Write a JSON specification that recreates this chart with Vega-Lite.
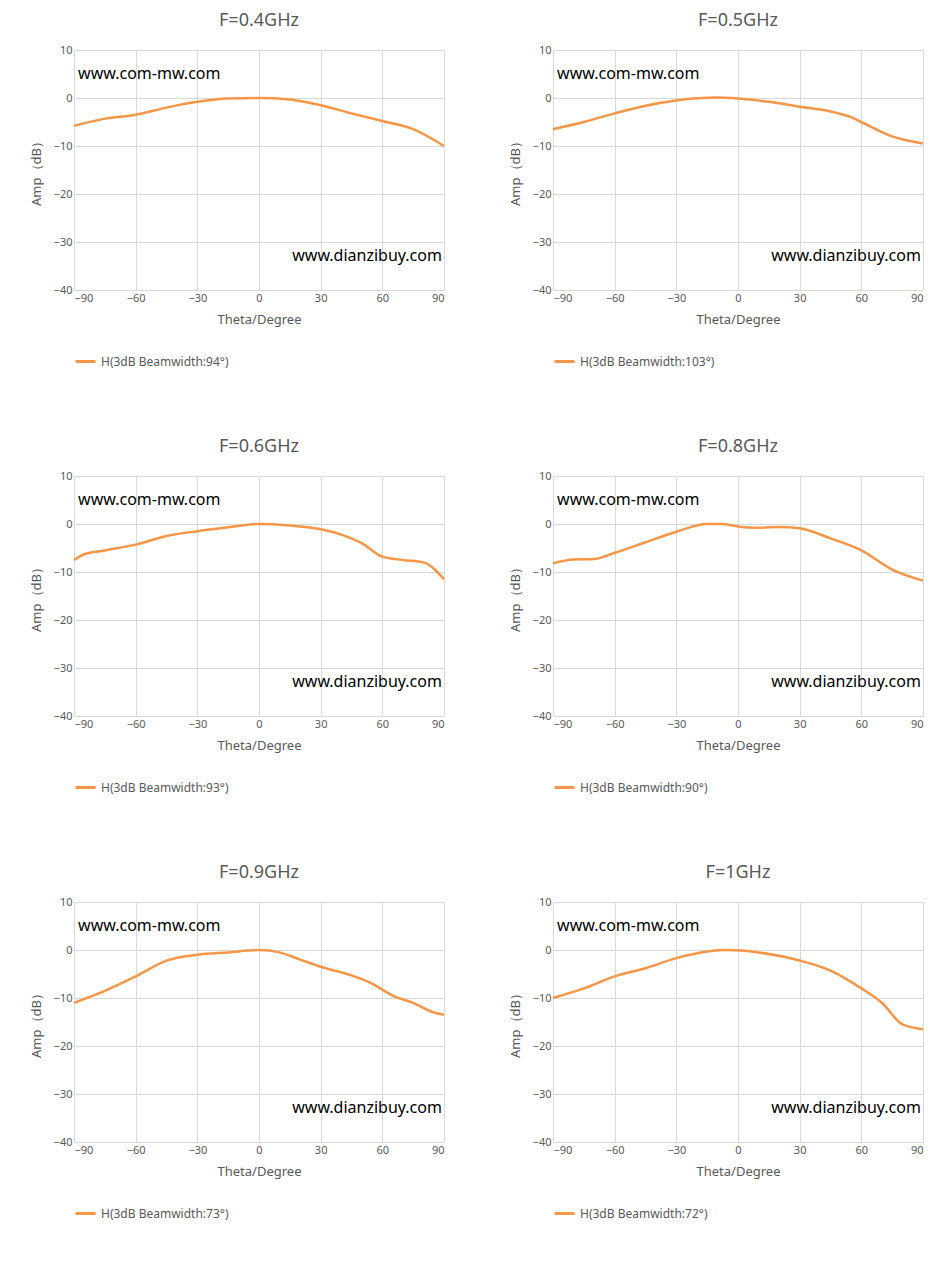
{
"$schema":"https://vega.github.io/schema/vega-lite/v6.json",
"padding":{"left":30,"top":12,"right":10,"bottom":5},
"background":"white",
"spacing":70,
"datasets":{
"curves":[
{"p":"0.4","s":"H(3dB Beamwidth:94°)","t":-90,"a":-5.8},{"p":"0.4","s":"H(3dB Beamwidth:94°)","t":-75,"a":-4.3},{"p":"0.4","s":"H(3dB Beamwidth:94°)","t":-60,"a":-3.5},{"p":"0.4","s":"H(3dB Beamwidth:94°)","t":-45,"a":-2},{"p":"0.4","s":"H(3dB Beamwidth:94°)","t":-30,"a":-0.8},{"p":"0.4","s":"H(3dB Beamwidth:94°)","t":-15,"a":-0.1},{"p":"0.4","s":"H(3dB Beamwidth:94°)","t":0,"a":0},{"p":"0.4","s":"H(3dB Beamwidth:94°)","t":15,"a":-0.3},{"p":"0.4","s":"H(3dB Beamwidth:94°)","t":30,"a":-1.5},{"p":"0.4","s":"H(3dB Beamwidth:94°)","t":45,"a":-3.2},{"p":"0.4","s":"H(3dB Beamwidth:94°)","t":60,"a":-4.8},{"p":"0.4","s":"H(3dB Beamwidth:94°)","t":75,"a":-6.5},{"p":"0.4","s":"H(3dB Beamwidth:94°)","t":90,"a":-10},
{"p":"0.5","s":"H(3dB Beamwidth:103°)","t":-90,"a":-6.5},{"p":"0.5","s":"H(3dB Beamwidth:103°)","t":-75,"a":-5},{"p":"0.5","s":"H(3dB Beamwidth:103°)","t":-60,"a":-3.2},{"p":"0.5","s":"H(3dB Beamwidth:103°)","t":-45,"a":-1.6},{"p":"0.5","s":"H(3dB Beamwidth:103°)","t":-30,"a":-0.5},{"p":"0.5","s":"H(3dB Beamwidth:103°)","t":-10,"a":0.1},{"p":"0.5","s":"H(3dB Beamwidth:103°)","t":0,"a":-0.1},{"p":"0.5","s":"H(3dB Beamwidth:103°)","t":15,"a":-0.8},{"p":"0.5","s":"H(3dB Beamwidth:103°)","t":30,"a":-1.8},{"p":"0.5","s":"H(3dB Beamwidth:103°)","t":45,"a":-2.8},{"p":"0.5","s":"H(3dB Beamwidth:103°)","t":55,"a":-4},{"p":"0.5","s":"H(3dB Beamwidth:103°)","t":60,"a":-5},{"p":"0.5","s":"H(3dB Beamwidth:103°)","t":75,"a":-8},{"p":"0.5","s":"H(3dB Beamwidth:103°)","t":90,"a":-9.5},
{"p":"0.6","s":"H(3dB Beamwidth:93°)","t":-90,"a":-7.5},{"p":"0.6","s":"H(3dB Beamwidth:93°)","t":-85,"a":-6.3},{"p":"0.6","s":"H(3dB Beamwidth:93°)","t":-75,"a":-5.5},{"p":"0.6","s":"H(3dB Beamwidth:93°)","t":-60,"a":-4.3},{"p":"0.6","s":"H(3dB Beamwidth:93°)","t":-45,"a":-2.5},{"p":"0.6","s":"H(3dB Beamwidth:93°)","t":-30,"a":-1.5},{"p":"0.6","s":"H(3dB Beamwidth:93°)","t":-15,"a":-0.7},{"p":"0.6","s":"H(3dB Beamwidth:93°)","t":0,"a":0},{"p":"0.6","s":"H(3dB Beamwidth:93°)","t":15,"a":-0.3},{"p":"0.6","s":"H(3dB Beamwidth:93°)","t":30,"a":-1.1},{"p":"0.6","s":"H(3dB Beamwidth:93°)","t":40,"a":-2.2},{"p":"0.6","s":"H(3dB Beamwidth:93°)","t":50,"a":-4},{"p":"0.6","s":"H(3dB Beamwidth:93°)","t":60,"a":-6.8},{"p":"0.6","s":"H(3dB Beamwidth:93°)","t":70,"a":-7.5},{"p":"0.6","s":"H(3dB Beamwidth:93°)","t":80,"a":-8},{"p":"0.6","s":"H(3dB Beamwidth:93°)","t":90,"a":-11.5},
{"p":"0.8","s":"H(3dB Beamwidth:90°)","t":-90,"a":-8.2},{"p":"0.8","s":"H(3dB Beamwidth:90°)","t":-80,"a":-7.4},{"p":"0.8","s":"H(3dB Beamwidth:90°)","t":-70,"a":-7.3},{"p":"0.8","s":"H(3dB Beamwidth:90°)","t":-60,"a":-6},{"p":"0.8","s":"H(3dB Beamwidth:90°)","t":-45,"a":-3.8},{"p":"0.8","s":"H(3dB Beamwidth:90°)","t":-30,"a":-1.6},{"p":"0.8","s":"H(3dB Beamwidth:90°)","t":-15,"a":0},{"p":"0.8","s":"H(3dB Beamwidth:90°)","t":-8,"a":0},{"p":"0.8","s":"H(3dB Beamwidth:90°)","t":0,"a":-0.5},{"p":"0.8","s":"H(3dB Beamwidth:90°)","t":10,"a":-0.8},{"p":"0.8","s":"H(3dB Beamwidth:90°)","t":20,"a":-0.6},{"p":"0.8","s":"H(3dB Beamwidth:90°)","t":30,"a":-0.9},{"p":"0.8","s":"H(3dB Beamwidth:90°)","t":45,"a":-3},{"p":"0.8","s":"H(3dB Beamwidth:90°)","t":60,"a":-5.5},{"p":"0.8","s":"H(3dB Beamwidth:90°)","t":75,"a":-9.5},{"p":"0.8","s":"H(3dB Beamwidth:90°)","t":90,"a":-11.8},
{"p":"0.9","s":"H(3dB Beamwidth:73°)","t":-90,"a":-11},{"p":"0.9","s":"H(3dB Beamwidth:73°)","t":-75,"a":-8.5},{"p":"0.9","s":"H(3dB Beamwidth:73°)","t":-60,"a":-5.5},{"p":"0.9","s":"H(3dB Beamwidth:73°)","t":-45,"a":-2.2},{"p":"0.9","s":"H(3dB Beamwidth:73°)","t":-30,"a":-1},{"p":"0.9","s":"H(3dB Beamwidth:73°)","t":-15,"a":-0.5},{"p":"0.9","s":"H(3dB Beamwidth:73°)","t":0,"a":0},{"p":"0.9","s":"H(3dB Beamwidth:73°)","t":10,"a":-0.5},{"p":"0.9","s":"H(3dB Beamwidth:73°)","t":20,"a":-2},{"p":"0.9","s":"H(3dB Beamwidth:73°)","t":30,"a":-3.5},{"p":"0.9","s":"H(3dB Beamwidth:73°)","t":45,"a":-5.3},{"p":"0.9","s":"H(3dB Beamwidth:73°)","t":55,"a":-7},{"p":"0.9","s":"H(3dB Beamwidth:73°)","t":65,"a":-9.5},{"p":"0.9","s":"H(3dB Beamwidth:73°)","t":75,"a":-11},{"p":"0.9","s":"H(3dB Beamwidth:73°)","t":85,"a":-13},{"p":"0.9","s":"H(3dB Beamwidth:73°)","t":90,"a":-13.5},
{"p":"1","s":"H(3dB Beamwidth:72°)","t":-90,"a":-10},{"p":"1","s":"H(3dB Beamwidth:72°)","t":-75,"a":-8},{"p":"1","s":"H(3dB Beamwidth:72°)","t":-60,"a":-5.5},{"p":"1","s":"H(3dB Beamwidth:72°)","t":-45,"a":-3.8},{"p":"1","s":"H(3dB Beamwidth:72°)","t":-30,"a":-1.7},{"p":"1","s":"H(3dB Beamwidth:72°)","t":-15,"a":-0.3},{"p":"1","s":"H(3dB Beamwidth:72°)","t":-5,"a":0},{"p":"1","s":"H(3dB Beamwidth:72°)","t":10,"a":-0.5},{"p":"1","s":"H(3dB Beamwidth:72°)","t":30,"a":-2.2},{"p":"1","s":"H(3dB Beamwidth:72°)","t":45,"a":-4.3},{"p":"1","s":"H(3dB Beamwidth:72°)","t":60,"a":-8},{"p":"1","s":"H(3dB Beamwidth:72°)","t":70,"a":-11},{"p":"1","s":"H(3dB Beamwidth:72°)","t":80,"a":-15.5},{"p":"1","s":"H(3dB Beamwidth:72°)","t":90,"a":-16.5}
],
"left":[{"label":"www.com-mw.com","t":-88,"a":5}],
"right":[{"label":"www.dianzibuy.com","t":89,"a":-33}]
},
"config":{
"font":"Noto Sans",
"view":{"stroke":null},
"axis":{"gridColor":"#d9d9d9","domain":false,"ticks":false,"labelColor":"#595959","labelFontSize":11,"titleColor":"#595959","titleFontSize":13,"titleFontWeight":"normal","titlePadding":10},
"title":{"fontSize":18,"fontWeight":"normal","color":"#595959","offset":14},
"legend":{"orient":"bottom","title":null,"labelFontSize":12,"labelColor":"#595959","symbolType":"stroke","symbolStrokeWidth":3,"symbolSize":400,"offset":24,"labelLimit":300}
},
"vconcat":[
{"spacing":60,"hconcat":[
{"title":"F=0.4GHz","width":370,"height":240,"layer":[
{"data":{"name":"curves"},"transform":[{"filter":"datum.p=='0.4'"}],"mark":{"type":"line","interpolate":"monotone","strokeWidth":2.5},
"encoding":{"x":{"field":"t","type":"quantitative","scale":{"domain":[-90,90],"nice":false},"axis":{"values":[-90,-60,-30,0,30,60,90],"title":"Theta/Degree"}},
"y":{"field":"a","type":"quantitative","scale":{"domain":[-40,10]},"axis":{"values":[-40,-30,-20,-10,0,10],"title":"Amp（dB）"}},
"color":{"field":"s","type":"nominal","scale":{"range":["#F79646"]}}}},
{"data":{"name":"left"},"mark":{"type":"text","fontSize":16,"baseline":"middle","align":"left"},"encoding":{"x":{"field":"t","type":"quantitative"},"y":{"field":"a","type":"quantitative"},"text":{"field":"label"}}},
{"data":{"name":"right"},"mark":{"type":"text","fontSize":16,"baseline":"middle","align":"right"},"encoding":{"x":{"field":"t","type":"quantitative"},"y":{"field":"a","type":"quantitative"},"text":{"field":"label"}}}
]},
{"title":"F=0.5GHz","width":370,"height":240,"layer":[
{"data":{"name":"curves"},"transform":[{"filter":"datum.p=='0.5'"}],"mark":{"type":"line","interpolate":"monotone","strokeWidth":2.5},
"encoding":{"x":{"field":"t","type":"quantitative","scale":{"domain":[-90,90],"nice":false},"axis":{"values":[-90,-60,-30,0,30,60,90],"title":"Theta/Degree"}},
"y":{"field":"a","type":"quantitative","scale":{"domain":[-40,10]},"axis":{"values":[-40,-30,-20,-10,0,10],"title":"Amp（dB）"}},
"color":{"field":"s","type":"nominal","scale":{"range":["#F79646"]}}}},
{"data":{"name":"left"},"mark":{"type":"text","fontSize":16,"baseline":"middle","align":"left"},"encoding":{"x":{"field":"t","type":"quantitative"},"y":{"field":"a","type":"quantitative"},"text":{"field":"label"}}},
{"data":{"name":"right"},"mark":{"type":"text","fontSize":16,"baseline":"middle","align":"right"},"encoding":{"x":{"field":"t","type":"quantitative"},"y":{"field":"a","type":"quantitative"},"text":{"field":"label"}}}
]}
],"resolve":{"scale":{"color":"independent"}}},
{"spacing":60,"hconcat":[
{"title":"F=0.6GHz","width":370,"height":240,"layer":[
{"data":{"name":"curves"},"transform":[{"filter":"datum.p=='0.6'"}],"mark":{"type":"line","interpolate":"monotone","strokeWidth":2.5},
"encoding":{"x":{"field":"t","type":"quantitative","scale":{"domain":[-90,90],"nice":false},"axis":{"values":[-90,-60,-30,0,30,60,90],"title":"Theta/Degree"}},
"y":{"field":"a","type":"quantitative","scale":{"domain":[-40,10]},"axis":{"values":[-40,-30,-20,-10,0,10],"title":"Amp（dB）"}},
"color":{"field":"s","type":"nominal","scale":{"range":["#F79646"]}}}},
{"data":{"name":"left"},"mark":{"type":"text","fontSize":16,"baseline":"middle","align":"left"},"encoding":{"x":{"field":"t","type":"quantitative"},"y":{"field":"a","type":"quantitative"},"text":{"field":"label"}}},
{"data":{"name":"right"},"mark":{"type":"text","fontSize":16,"baseline":"middle","align":"right"},"encoding":{"x":{"field":"t","type":"quantitative"},"y":{"field":"a","type":"quantitative"},"text":{"field":"label"}}}
]},
{"title":"F=0.8GHz","width":370,"height":240,"layer":[
{"data":{"name":"curves"},"transform":[{"filter":"datum.p=='0.8'"}],"mark":{"type":"line","interpolate":"monotone","strokeWidth":2.5},
"encoding":{"x":{"field":"t","type":"quantitative","scale":{"domain":[-90,90],"nice":false},"axis":{"values":[-90,-60,-30,0,30,60,90],"title":"Theta/Degree"}},
"y":{"field":"a","type":"quantitative","scale":{"domain":[-40,10]},"axis":{"values":[-40,-30,-20,-10,0,10],"title":"Amp（dB）"}},
"color":{"field":"s","type":"nominal","scale":{"range":["#F79646"]}}}},
{"data":{"name":"left"},"mark":{"type":"text","fontSize":16,"baseline":"middle","align":"left"},"encoding":{"x":{"field":"t","type":"quantitative"},"y":{"field":"a","type":"quantitative"},"text":{"field":"label"}}},
{"data":{"name":"right"},"mark":{"type":"text","fontSize":16,"baseline":"middle","align":"right"},"encoding":{"x":{"field":"t","type":"quantitative"},"y":{"field":"a","type":"quantitative"},"text":{"field":"label"}}}
]}
],"resolve":{"scale":{"color":"independent"}}},
{"spacing":60,"hconcat":[
{"title":"F=0.9GHz","width":370,"height":240,"layer":[
{"data":{"name":"curves"},"transform":[{"filter":"datum.p=='0.9'"}],"mark":{"type":"line","interpolate":"monotone","strokeWidth":2.5},
"encoding":{"x":{"field":"t","type":"quantitative","scale":{"domain":[-90,90],"nice":false},"axis":{"values":[-90,-60,-30,0,30,60,90],"title":"Theta/Degree"}},
"y":{"field":"a","type":"quantitative","scale":{"domain":[-40,10]},"axis":{"values":[-40,-30,-20,-10,0,10],"title":"Amp（dB）"}},
"color":{"field":"s","type":"nominal","scale":{"range":["#F79646"]}}}},
{"data":{"name":"left"},"mark":{"type":"text","fontSize":16,"baseline":"middle","align":"left"},"encoding":{"x":{"field":"t","type":"quantitative"},"y":{"field":"a","type":"quantitative"},"text":{"field":"label"}}},
{"data":{"name":"right"},"mark":{"type":"text","fontSize":16,"baseline":"middle","align":"right"},"encoding":{"x":{"field":"t","type":"quantitative"},"y":{"field":"a","type":"quantitative"},"text":{"field":"label"}}}
]},
{"title":"F=1GHz","width":370,"height":240,"layer":[
{"data":{"name":"curves"},"transform":[{"filter":"datum.p=='1'"}],"mark":{"type":"line","interpolate":"monotone","strokeWidth":2.5},
"encoding":{"x":{"field":"t","type":"quantitative","scale":{"domain":[-90,90],"nice":false},"axis":{"values":[-90,-60,-30,0,30,60,90],"title":"Theta/Degree"}},
"y":{"field":"a","type":"quantitative","scale":{"domain":[-40,10]},"axis":{"values":[-40,-30,-20,-10,0,10],"title":"Amp（dB）"}},
"color":{"field":"s","type":"nominal","scale":{"range":["#F79646"]}}}},
{"data":{"name":"left"},"mark":{"type":"text","fontSize":16,"baseline":"middle","align":"left"},"encoding":{"x":{"field":"t","type":"quantitative"},"y":{"field":"a","type":"quantitative"},"text":{"field":"label"}}},
{"data":{"name":"right"},"mark":{"type":"text","fontSize":16,"baseline":"middle","align":"right"},"encoding":{"x":{"field":"t","type":"quantitative"},"y":{"field":"a","type":"quantitative"},"text":{"field":"label"}}}
]}
],"resolve":{"scale":{"color":"independent"}}}
],
"resolve":{"scale":{"color":"independent"}}
}
